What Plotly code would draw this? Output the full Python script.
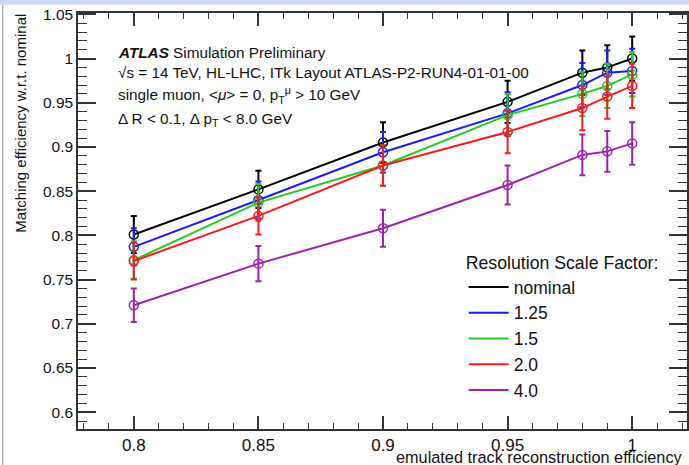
import plotly.graph_objects as go

# ---- data ----
efficiency = [0.8, 0.85, 0.9, 0.95, 0.98, 0.99, 1.0]
series_names = ["nominal", "1.25", "1.5", "2.0", "4.0"]
nominal = [0.801, 0.852, 0.905, 0.951, 0.984, 0.990, 1.000]
sf_1p25 = [0.787, 0.840, 0.894, 0.938, 0.970, 0.984, 0.986]
sf_1p5 = [0.772, 0.837, 0.879, 0.936, 0.960, 0.969, 0.982]
sf_2p0 = [0.771, 0.822, 0.879, 0.917, 0.944, 0.957, 0.969]
sf_4p0 = [0.721, 0.768, 0.808, 0.857, 0.891, 0.895, 0.904]
err_nominal = [0.021, 0.021, 0.023, 0.024, 0.025, 0.025, 0.025]
err_1p25 = [0.021, 0.021, 0.023, 0.024, 0.025, 0.025, 0.025]
err_1p5 = [0.021, 0.021, 0.023, 0.024, 0.025, 0.025, 0.025]
err_2p0 = [0.021, 0.021, 0.023, 0.024, 0.025, 0.025, 0.025]
err_4p0 = [0.019, 0.020, 0.021, 0.022, 0.023, 0.023, 0.024]
colors = ["#000000", "#1a1aff", "#22cc22", "#ff1a1a", "#a020b0"]

values = [nominal, sf_1p25, sf_1p5, sf_2p0, sf_4p0]
errors = [err_nominal, err_1p25, err_1p5, err_2p0, err_4p0]

FONT = "Liberation Sans, Arial, Helvetica, sans-serif"

fig = go.Figure()
for name, vals, errs, col in zip(series_names, values, errors, colors):
    fig.add_trace(go.Scatter(
        x=efficiency, y=vals, mode="lines+markers", showlegend=False,
        line=dict(color=col, width=2),
        marker=dict(symbol="circle-open", size=9, color=col, line=dict(width=1.5, color=col)),
        error_y=dict(type="data", array=errs, visible=True, color=col, thickness=2, width=3),
    ))
for name, col in zip(series_names, colors):
    fig.add_trace(go.Scatter(x=[None], y=[None], mode="lines", name=name,
                             line=dict(color=col, width=2)))

axis_common = dict(
    showgrid=False, zeroline=False, showline=True, linecolor="#333", linewidth=1.5,
    mirror="allticks", ticks="inside", tickcolor="#333", tickwidth=1.5,
)
fig.update_xaxes(
    **axis_common, range=[0.7776, 1.022], tick0=0.8, dtick=0.05, ticklen=13,
    tickfont=dict(family=FONT, size=17, color="#111"),
    minor=dict(dtick=0.01, ticks="inside", ticklen=6.5, tickwidth=1.2, tickcolor="#333"),
)
fig.update_yaxes(
    **axis_common, range=[0.581, 1.0515], tick0=0.6, dtick=0.05, ticklen=18,
    tickfont=dict(family=FONT, size=15.5, color="#111"),
    minor=dict(dtick=0.01, ticks="inside", ticklen=9, tickwidth=1.2, tickcolor="#333"),
)

def py2paper(py):
    return (429 - py) / 416

def px2paper(px):
    return (px - 78) / 611

ann_font = dict(family=FONT, size=15.3, color="#111")
lines = [
    ("<b><i>ATLAS</i></b> Simulation Preliminary", 52),
    ("√s = 14 TeV, HL-LHC, ITk Layout ATLAS-P2-RUN4-01-01-00", 72),
    ("single muon, &lt;<i>μ</i>&gt; = 0, p<sub>T</sub><sup>μ</sup> &gt; 10 GeV", 95),
    ("Δ R &lt; 0.1, Δ p<sub>T</sub> &lt; 8.0 GeV", 120),
]
annotations = []
for txt, py in lines:
    annotations.append(dict(text=txt, x=px2paper(116), y=py2paper(py), xref="paper", yref="paper",
                            xanchor="left", yanchor="middle", showarrow=False, font=ann_font))
annotations.append(dict(text="emulated track reconstruction efficiency", x=1, y=py2paper(457),
                        xref="paper", yref="paper", xanchor="right", yanchor="middle", xshift=-2,
                        showarrow=False, font=dict(family=FONT, size=16.3, color="#111")))
annotations.append(dict(text="Matching efficiency w.r.t. nominal", x=px2paper(20), y=py2paper(12),
                        xref="paper", yref="paper", xanchor="center", yanchor="top", textangle=-90,
                        showarrow=False, font=dict(family=FONT, size=15, color="#111")))

fig.update_layout(
    width=689, height=465,
    margin=dict(l=78, r=0, t=13, b=36),
    paper_bgcolor="white", plot_bgcolor="white",
    font=dict(family=FONT, color="#111"),
    annotations=annotations,
    legend=dict(
        title=dict(text="Resolution Scale Factor:", font=dict(family=FONT, size=17.7, color="#111")),
        font=dict(family=FONT, size=17.5, color="#111"),
        x=px2paper(465), y=py2paper(246), xanchor="left", yanchor="top",
        bgcolor="rgba(255,255,255,0)", itemwidth=40, tracegroupgap=0,
    ),
    shapes=[
        dict(type="rect", xref="paper", yref="paper", x0=-0.2, x1=1.1,
             y0=py2paper(4.5), y1=1.2, fillcolor="#cddcf2", line=dict(width=0), layer="above"),
        dict(type="line", xref="paper", yref="paper", x0=px2paper(2.5), x1=px2paper(2.5),
             y0=py2paper(4.5), y1=-0.2, line=dict(color="#a0a0a0", width=1.2), layer="above"),
    ],
)

fig.write_html("out.html", config={"displayModeBar": False},
               post_script="document.body.style.margin='0';document.body.style.overflow='hidden';")
